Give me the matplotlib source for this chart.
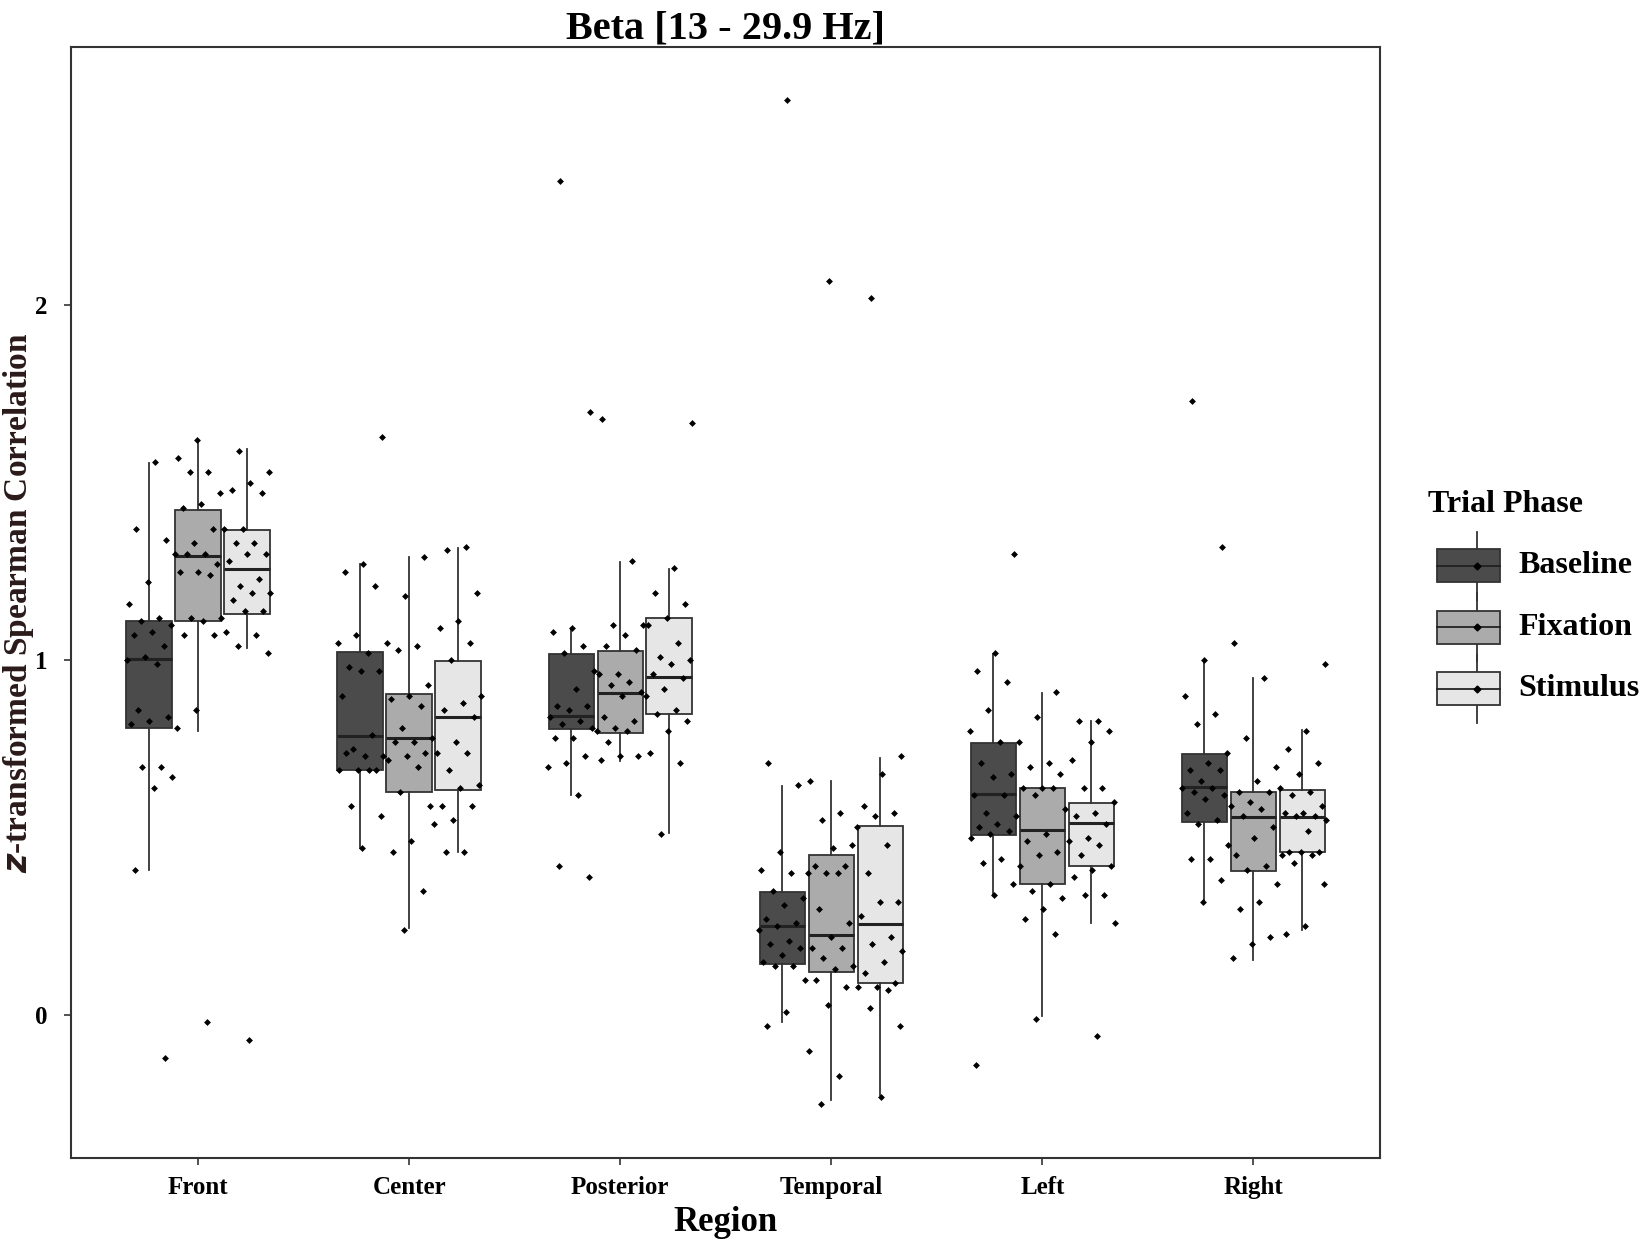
import matplotlib
matplotlib.use("Agg")
import matplotlib.pyplot as plt
from matplotlib.patches import Rectangle
import numpy as np

# ==============================
# Data
# ==============================
regions = ["Front", "Center", "Posterior", "Temporal", "Left", "Right"]
phases = ["Baseline", "Fixation", "Stimulus"]
phase_colors = ["#4b4b4b", "#ababab", "#e6e6e6"]

# box statistics per phase, one value per region
baseline_whislo = [0.41, 0.47, 0.62, -0.02, 0.34, 0.32]
baseline_q1 = [0.81, 0.69, 0.806, 0.144, 0.508, 0.545]
baseline_med = [1.005, 0.787, 0.843, 0.250, 0.622, 0.643]
baseline_q3 = [1.11, 1.022, 1.017, 0.348, 0.767, 0.736]
baseline_whishi = [1.555, 1.272, 1.087, 0.645, 1.017, 1.0]

fixation_whislo = [0.80, 0.247, 0.716, -0.239, -0.003, 0.155]
fixation_q1 = [1.11, 0.629, 0.795, 0.121, 0.371, 0.407]
fixation_med = [1.295, 0.781, 0.907, 0.225, 0.521, 0.559]
fixation_q3 = [1.423, 0.904, 1.025, 0.452, 0.640, 0.629]
fixation_whishi = [1.613, 1.292, 1.278, 0.660, 0.909, 0.949]

stimulus_whislo = [1.034, 0.461, 0.514, -0.225, 0.261, 0.239]
stimulus_q1 = [1.131, 0.635, 0.848, 0.090, 0.421, 0.461]
stimulus_med = [1.256, 0.840, 0.952, 0.256, 0.542, 0.559]
stimulus_q3 = [1.366, 0.997, 1.118, 0.534, 0.598, 0.635]
stimulus_whishi = [1.595, 1.315, 1.256, 0.725, 0.828, 0.803]

# individual subjects, per region
baseline_points = [
    [1.56, 1.37, 1.34, 1.22, 1.16, 1.12, 1.11, 1.10, 1.08, 1.07, 1.04, 1.01,
     1.00, 0.99, 0.86, 0.84, 0.83, 0.82, 0.70, 0.70, 0.67, 0.64, 0.41, -0.12],
    [1.63, 1.27, 1.25, 1.21, 1.07, 1.05, 1.02, 0.98, 0.97, 0.97, 0.90, 0.79,
     0.75, 0.73, 0.73, 0.74, 0.69, 0.69, 0.69, 0.69, 0.59, 0.56, 0.47],
    [2.35, 1.70, 1.09, 1.08, 1.04, 1.02, 0.97, 0.92, 0.87, 0.87, 0.86, 0.84,
     0.83, 0.82, 0.81, 0.78, 0.78, 0.73, 0.71, 0.70, 0.62, 0.42, 0.39],
    [2.58, 0.71, 0.65, 0.46, 0.41, 0.40, 0.35, 0.33, 0.31, 0.27, 0.26, 0.25,
     0.24, 0.21, 0.20, 0.19, 0.17, 0.15, 0.14, 0.14, 0.10, 0.01, -0.03],
    [1.30, 1.02, 0.97, 0.94, 0.86, 0.80, 0.77, 0.71, 0.68, 0.67, 0.62, 0.62,
     0.57, 0.56, 0.54, 0.53, 0.52, 0.51, 0.50, 0.44, 0.43, 0.37, 0.34, -0.14],
    [1.73, 1.32, 1.00, 0.90, 0.85, 0.82, 0.74, 0.71, 0.69, 0.69, 0.66, 0.64,
     0.64, 0.63, 0.62, 0.61, 0.57, 0.55, 0.54, 0.48, 0.44, 0.44, 0.38, 0.32],
]
fixation_points = [
    [1.62, 1.57, 1.53, 1.53, 1.47, 1.44, 1.43, 1.37, 1.33, 1.30, 1.30, 1.30,
     1.27, 1.25, 1.25, 1.24, 1.12, 1.12, 1.11, 1.07, 1.07, 0.86, 0.81, -0.02],
    [1.29, 1.18, 1.05, 1.04, 1.03, 0.93, 0.90, 0.89, 0.87, 0.81, 0.78, 0.77,
     0.77, 0.74, 0.73, 0.72, 0.70, 0.63, 0.59, 0.49, 0.46, 0.35, 0.24],
    [1.68, 1.28, 1.10, 1.10, 1.07, 1.04, 1.03, 0.96, 0.96, 0.94, 0.93, 0.91,
     0.90, 0.84, 0.83, 0.81, 0.80, 0.80, 0.77, 0.73, 0.73, 0.72],
    [2.07, 0.66, 0.57, 0.55, 0.48, 0.47, 0.42, 0.42, 0.40, 0.40, 0.40, 0.30,
     0.26, 0.22, 0.19, 0.19, 0.16, 0.14, 0.13, 0.10, 0.08, 0.03, -0.10, -0.17, -0.25],
    [0.91, 0.84, 0.77, 0.71, 0.70, 0.68, 0.64, 0.64, 0.64, 0.62, 0.58, 0.51,
     0.49, 0.46, 0.45, 0.42, 0.37, 0.35, 0.33, 0.30, 0.27, 0.23, -0.01],
    [1.05, 0.95, 0.78, 0.70, 0.66, 0.63, 0.63, 0.60, 0.59, 0.58, 0.56, 0.53,
     0.50, 0.45, 0.42, 0.41, 0.37, 0.32, 0.30, 0.22, 0.20, 0.16],
]
stimulus_points = [
    [1.59, 1.53, 1.50, 1.48, 1.47, 1.37, 1.37, 1.33, 1.33, 1.30, 1.30, 1.28,
     1.23, 1.21, 1.19, 1.19, 1.17, 1.14, 1.14, 1.08, 1.07, 1.04, 1.02, -0.07],
    [1.32, 1.31, 1.19, 1.11, 1.09, 1.05, 1.00, 0.90, 0.88, 0.86, 0.84, 0.77,
     0.74, 0.74, 0.69, 0.65, 0.64, 0.59, 0.59, 0.55, 0.54, 0.46, 0.46],
    [1.67, 1.26, 1.19, 1.16, 1.12, 1.10, 1.05, 1.01, 1.00, 0.99, 0.96, 0.95,
     0.92, 0.90, 0.86, 0.85, 0.83, 0.80, 0.74, 0.71, 0.51],
    [2.02, 0.73, 0.68, 0.59, 0.57, 0.56, 0.53, 0.48, 0.40, 0.32, 0.32, 0.28,
     0.22, 0.20, 0.18, 0.15, 0.12, 0.09, 0.08, 0.08, 0.07, 0.02, -0.03, -0.23],
    [0.83, 0.83, 0.80, 0.77, 0.72, 0.64, 0.64, 0.60, 0.57, 0.56, 0.54, 0.50,
     0.49, 0.48, 0.45, 0.42, 0.41, 0.39, 0.34, 0.34, 0.26, -0.06],
    [0.99, 0.80, 0.75, 0.71, 0.68, 0.64, 0.63, 0.62, 0.59, 0.57, 0.57, 0.56,
     0.56, 0.55, 0.52, 0.46, 0.46, 0.46, 0.45, 0.45, 0.43, 0.37, 0.25, 0.23],
]

box_stats = {
    "Baseline": (baseline_whislo, baseline_q1, baseline_med, baseline_q3, baseline_whishi),
    "Fixation": (fixation_whislo, fixation_q1, fixation_med, fixation_q3, fixation_whishi),
    "Stimulus": (stimulus_whislo, stimulus_q1, stimulus_med, stimulus_q3, stimulus_whishi),
}
points = {"Baseline": baseline_points, "Fixation": fixation_points, "Stimulus": stimulus_points}

SERIF = ["Liberation Serif", "DejaVu Serif"]
plt.rcParams["font.family"] = SERIF
plt.rcParams["font.weight"] = "bold"

EDGE = "#333333"
offsets = [-0.232, 0.0, 0.232]
box_w = 0.215

# ==============================
# Plot
# ==============================
fig = plt.figure(figsize=(16.5, 12.41), dpi=100)
ax = fig.add_axes([0.0433, 0.067, 0.7931, 0.8951])

x_base = np.arange(len(regions))
for k, phase in enumerate(phases):
    wlo, q1, med, q3, whi = box_stats[phase]
    stats = [
        {"whislo": wlo[i], "q1": q1[i], "med": med[i], "q3": q3[i], "whishi": whi[i], "fliers": []}
        for i in range(len(regions))
    ]
    ax.bxp(
        stats,
        positions=x_base + offsets[k],
        widths=box_w,
        showcaps=False,
        showfliers=False,
        patch_artist=True,
        boxprops=dict(facecolor=phase_colors[k], edgecolor=EDGE, linewidth=1.3),
        whiskerprops=dict(color=EDGE, linewidth=1.3),
        medianprops=dict(color="#222222", linewidth=2.2),
        zorder=2,
    )
    # jittered subject points (deterministic spread)
    for i in range(len(regions)):
        vals = np.array(points[phase][i])
        n = len(vals)
        jit = (((np.arange(n) + 1 + 7 * i + 3 * k) * 0.6180339887) % 1.0 - 0.5) * 0.23
        ax.plot(x_base[i] + offsets[k] + jit, vals, "D", color="black",
                markersize=3.5, markeredgewidth=0, zorder=3)

ax.set_xlim(-0.6, 5.6)
ax.set_ylim(-0.402, 2.728)
ax.set_xticks(x_base)
ax.set_xticklabels(regions, fontsize=18, fontweight="bold")
ax.set_yticks([0, 1, 2])
ax.set_yticklabels(["0", "1", "2"], fontsize=18, fontweight="bold")
ax.tick_params(axis="both", direction="out", length=5, width=1.2, color="#333333", pad=8)
ax.tick_params(axis="y", pad=12)

for s in ax.spines.values():
    s.set_color("#333333")
    s.set_linewidth(1.5)

ax.set_title("Beta [13 - 29.9 Hz]", fontsize=29, fontweight="bold", pad=5)
ax.set_xlabel("Region", fontsize=25, fontweight="bold", labelpad=5)
ax.set_ylabel(r"$\it{z}$-transformed Spearman Correlation", fontsize=24,
              fontweight="bold", color="#2a1a1a")
ax.yaxis.set_label_coords(-0.027, 0.5)

# ==============================
# Legend drawn by hand (boxplot glyphs)
# ==============================
lax = fig.add_axes([0.86, 0.40, 0.14, 0.22])
lax.set_xlim(0, 1)
lax.set_ylim(0, 1)
lax.axis("off")
lax.text(0.04, 0.88, "Trial Phase", fontsize=23, fontweight="bold", va="center", ha="left")
key_y = [0.655, 0.43, 0.205]
for k, phase in enumerate(phases):
    y = key_y[k]
    lax.plot([0.25, 0.25], [y - 0.125, y + 0.125], color=EDGE, lw=1.3, zorder=1)
    lax.add_patch(Rectangle((0.08, y - 0.06), 0.27, 0.12, facecolor=phase_colors[k],
                            edgecolor=EDGE, lw=1.3, zorder=2))
    lax.plot([0.08, 0.35], [y, y], color="#222222", lw=1.3, zorder=3)
    lax.plot([0.25], [y], "D", color="black", markersize=3.5, zorder=4)
    lax.text(0.43, y, phase, fontsize=23, fontweight="bold", va="center", ha="left")

fig.savefig("out.png", dpi=100)
